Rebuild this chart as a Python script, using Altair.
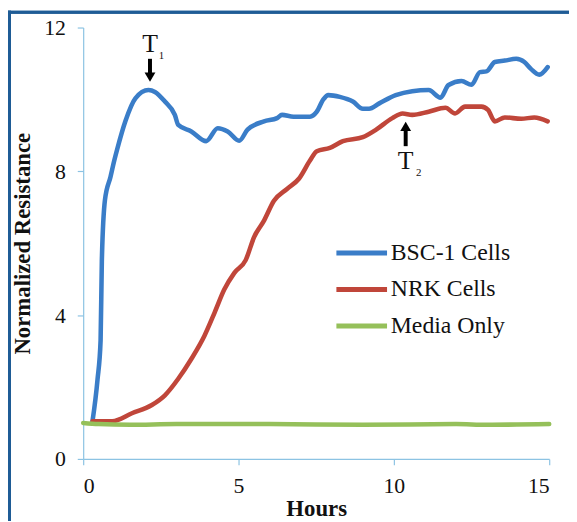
import altair as alt
import pandas as pd

# ---- data ----
bsc_hours = [0.3, 0.46, 0.56, 0.6, 0.7, 0.88, 1.0, 1.09, 1.36, 1.68, 2.1, 2.31, 2.63, 2.95, 3.06,
             3.48, 3.96, 4.33, 4.65, 5.02, 5.29, 5.82, 6.24, 6.4, 6.77, 7.3, 7.52, 7.73, 7.89,
             8.26, 8.68, 9.0, 9.2, 9.53, 10.06, 10.59, 11.12, 11.5, 11.76, 12.18, 12.5, 12.77,
             12.98, 13.25, 13.57, 13.94, 14.2, 14.41, 14.68, 14.95]
bsc_res = [1.05, 2.2, 3.3, 5.5, 7.2, 7.85, 8.3, 8.6, 9.4, 10.03, 10.26, 10.21, 9.94, 9.57, 9.29,
           9.11, 8.84, 9.2, 9.11, 8.85, 9.16, 9.39, 9.48, 9.57, 9.52, 9.52, 9.66, 10.0, 10.12,
           10.07, 9.94, 9.74, 9.74, 9.89, 10.12, 10.23, 10.26, 10.05, 10.4, 10.51, 10.41, 10.76,
           10.78, 11.04, 11.08, 11.13, 11.04, 10.85, 10.69, 10.9]

nrk_hours = [0.3, 0.93, 1.57, 2.21, 2.63, 3.06, 3.48, 3.9, 4.23, 4.54, 4.86, 5.23, 5.5, 5.82,
             6.14, 6.56, 6.95, 7.3, 7.52, 7.94, 8.36, 9.0, 9.43, 9.95, 10.28, 10.59, 11.12,
             11.66, 11.97, 12.29, 12.82, 13.03, 13.25, 13.57, 14.1, 14.52, 14.95]
nrk_res = [1.05, 1.05, 1.27, 1.5, 1.77, 2.23, 2.78, 3.42, 4.07, 4.71, 5.17, 5.53, 6.17, 6.63,
           7.18, 7.51, 7.8, 8.3, 8.56, 8.65, 8.84, 8.95, 9.16, 9.48, 9.61, 9.57, 9.66,
           9.77, 9.61, 9.8, 9.8, 9.71, 9.39, 9.5, 9.46, 9.5, 9.39]

media_hours = [0.0, 0.5, 1.5, 3.0, 6.0, 9.0, 12.0, 13.0, 15.0]
media_res = [1.0, 0.97, 0.95, 0.97, 0.97, 0.95, 0.97, 0.95, 0.97]

series_names = ["BSC-1 Cells", "NRK Cells", "Media Only"]
series_colors = ["#3a7dc8", "#c0463a", "#95c05a"]

x_ticks = [0, 5, 10, 15]
y_ticks = [0, 4, 8, 12]

# annotation arrows
arrow_label = ["T", "T"]
arrow_sub = ["1", "2"]
arrow_x = [2.15, 10.38]
arrow_tail = [11.13, 8.7]
arrow_neck = [10.62, 9.25]
arrow_head = [10.62, 9.25]
arrow_shape = ["triangle-down", "triangle-up"]
label_y = [11.55, 8.28]
sub_x = [2.52, 10.8]
sub_y = [11.22, 7.96]

# ---- tables ----
rows = []
for name, hs, vs in zip(series_names, [bsc_hours, nrk_hours, media_hours],
                        [bsc_res, nrk_res, media_res]):
    for h, v in zip(hs, vs):
        rows.append({"Hours": h, "Resistance": v, "Series": name})
df = pd.DataFrame(rows)

ann = pd.DataFrame({"label": arrow_label, "sub": arrow_sub, "x": arrow_x,
                    "tail": arrow_tail, "neck": arrow_neck, "head": arrow_head,
                    "shape": arrow_shape, "ly": label_y, "sx": sub_x, "sy": sub_y})

# legend layout (placed in data units inside the plot)
LEG_X0, LEG_X1, LEG_TX = 8.15, 9.78, 9.9
LEG_Y0, LEG_STEP = 5.73, 1.015
leg = pd.DataFrame({
    "Series": series_names,
    "x0": [LEG_X0] * len(series_names),
    "x1": [LEG_X1] * len(series_names),
    "tx": [LEG_TX] * len(series_names),
    "y": [LEG_Y0 - i * LEG_STEP for i in range(len(series_names))],
})

FONT = "Liberation Serif"
AXC = "#8cc3e3"

xscale = alt.Scale(domain=[0, 15], nice=False)
yscale = alt.Scale(domain=[0, 12], nice=False)
cscale = alt.Scale(domain=series_names, range=series_colors)

lines = alt.Chart(df).mark_line(strokeWidth=4.6, strokeJoin="round", strokeCap="round",
                                interpolate="monotone").encode(
    x=alt.X("Hours:Q", scale=xscale,
            axis=alt.Axis(values=x_ticks, title="Hours", grid=False)),
    y=alt.Y("Resistance:Q", scale=yscale,
            axis=alt.Axis(values=y_ticks, title="Normalized Resistance", grid=False)),
    color=alt.Color("Series:N", scale=cscale, legend=None),
    order=alt.Order("Hours:Q"),
)

leg_lines = alt.Chart(leg).mark_rule(strokeWidth=5).encode(
    x="x0:Q", x2="x1:Q", y="y:Q",
    color=alt.Color("Series:N", scale=cscale, legend=None))
leg_text = alt.Chart(leg).mark_text(font=FONT, fontSize=24, color="#111", align="left",
                                    baseline="middle").encode(
    x="tx:Q", y="y:Q", text="Series:N")

shafts = alt.Chart(ann).mark_rule(color="black", strokeWidth=4).encode(
    x="x:Q", y="tail:Q", y2="neck:Q")
heads = alt.Chart(ann).mark_point(filled=True, color="black", opacity=1, size=120).encode(
    x="x:Q", y="head:Q", shape=alt.Shape("shape:N", scale=None))
tlabels = alt.Chart(ann).mark_text(font=FONT, fontSize=26, color="#111").encode(
    x="x:Q", y="ly:Q", text="label:N")
tsubs = alt.Chart(ann).mark_text(font=FONT, fontSize=11, color="#111").encode(
    x="sx:Q", y="sy:Q", text="sub:N")

# decorative frame on top and left of the figure
frame_top = alt.Chart(ann).mark_rule(color="#1f5c96", strokeWidth=3).encode(
    x=alt.value(-76), x2=alt.value(500), y=alt.value(-15.5))
frame_left = alt.Chart(ann).mark_rule(color="#1f5c96", strokeWidth=3).encode(
    x=alt.value(-74.5), y=alt.value(-17), y2=alt.value(500))

chart = alt.layer(lines, leg_lines, leg_text, shafts, heads, tlabels, tsubs,
                  frame_top, frame_left).properties(
    width=471, height=436,
    autosize=alt.AutoSizeParams(type="none"),
    padding={"left": 76, "top": 17, "right": 20, "bottom": 60},
    background="white",
).configure(font=FONT).configure_view(stroke=None).configure_axis(
    domainColor=AXC, tickColor=AXC, tickSize=6, domainWidth=1.2, tickWidth=1.2,
    labelFont=FONT, labelFontSize=22, labelColor="#111",
    titleFont=FONT, titleFontSize=23, titleFontWeight="bold", titleColor="#111",
).configure_axisX(labelPadding=11, titlePadding=1).configure_axisY(
    labelPadding=12, titlePadding=9
)

chart.save("out.html", embed_options={"renderer": "svg", "actions": False})
